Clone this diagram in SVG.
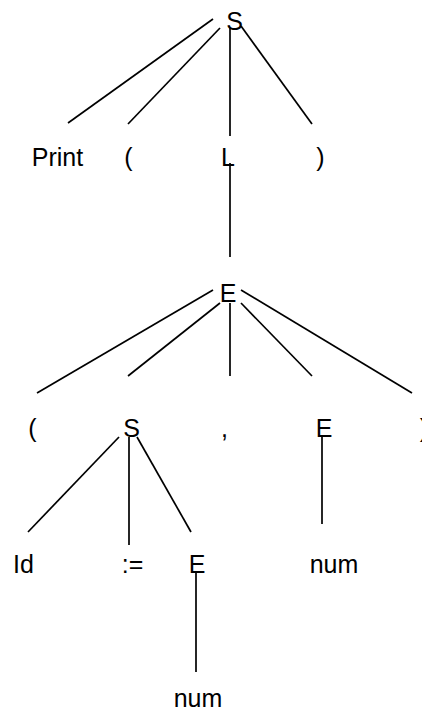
<svg xmlns="http://www.w3.org/2000/svg" width="422" height="712" viewBox="0 0 422 712">
<style>
.t{font-family:"Liberation Sans",Arial,sans-serif;font-size:25px;fill:#000;text-anchor:middle}
.e line{stroke:#000;stroke-width:1.7;stroke-linecap:butt}
</style>
<rect width="422" height="712" fill="#fff"/>
<g id="edges" class="e">
<line x1="213" y1="19" x2="68" y2="123"/>
<line x1="220" y1="28" x2="128" y2="124"/>
<line x1="230" y1="28" x2="230" y2="136"/>
<line x1="241" y1="26" x2="312" y2="124"/>
<line x1="230" y1="163" x2="230" y2="257"/>
<line x1="213" y1="290" x2="37" y2="393"/>
<line x1="220" y1="303" x2="128" y2="376"/>
<line x1="230" y1="303" x2="230" y2="376"/>
<line x1="241" y1="303" x2="312" y2="376"/>
<line x1="241" y1="290" x2="412" y2="393"/>
<line x1="119" y1="437" x2="28" y2="532"/>
<line x1="129" y1="437" x2="129" y2="545"/>
<line x1="137" y1="437" x2="191" y2="532"/>
<line x1="322" y1="437" x2="322" y2="524"/>
<line x1="196" y1="572" x2="196" y2="672"/>
</g>
<g id="n-S" class="t"><text x="234.5" y="30">S</text></g>
<g id="n-print" class="t"><text x="57.5" y="166">Print</text></g>
<g id="n-lparen1" class="t"><text x="128.5" y="166">(</text></g>
<g id="n-L" class="t"><text x="228" y="166">L</text></g>
<g id="n-rparen1" class="t"><text x="320.5" y="166">)</text></g>
<g id="n-E" class="t"><text x="228" y="302">E</text></g>
<g id="n-lparen2" class="t"><text x="32.5" y="437">(</text></g>
<g id="n-S2" class="t"><text x="131.5" y="437">S</text></g>
<g id="n-comma" class="t"><text x="224.5" y="437">,</text></g>
<g id="n-E2" class="t"><text x="324" y="437">E</text></g>
<g id="n-rparen2" class="t"><text x="424" y="437">)</text></g>
<g id="n-id" class="t"><text x="23.5" y="573">Id</text></g>
<g id="n-assign" class="t"><text x="132.5" y="573">:=</text></g>
<g id="n-E3" class="t"><text x="197" y="573">E</text></g>
<g id="n-num1" class="t"><text x="334" y="573">num</text></g>
<g id="n-num2" class="t"><text x="198" y="707">num</text></g>
</svg>
